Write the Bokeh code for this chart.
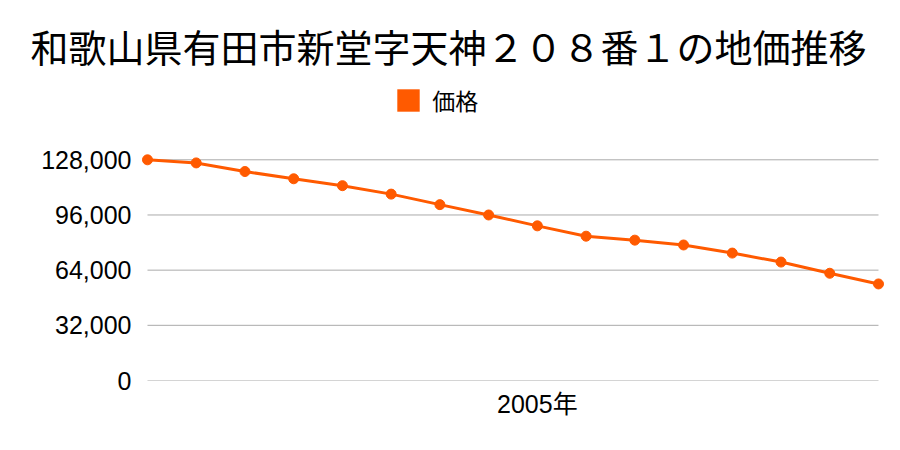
from bokeh.plotting import figure
from bokeh.models import (Range1d, FixedTicker, NumeralTickFormatter, CustomJSTickFormatter,
                          Legend, LegendItem, Title)
from bokeh.embed import file_html
from bokeh.resources import INLINE

title_text = "和歌山県有田市新堂字天神２０８番１の地価推移"
series_name = "価格"
years = list(range(1997, 2013))
prices = [128000, 126200, 121200, 117000, 113000, 108100, 102000, 96000,
          89700, 83700, 81400, 78600, 73900, 68700, 62200, 56000]
y_ticks = [0, 32000, 64000, 96000, 128000]
x_ticks = [2005]
x_suffix = "年"

CJK = "Noto Sans CJK JP"
NUM = "'Liberation Sans', 'Noto Sans CJK JP', sans-serif"
ORANGE = "#ff5a00"

p = figure(width=900, height=450, output_backend="svg", toolbar_location=None,
           min_border_left=137, min_border_right=13, min_border_top=80, min_border_bottom=70,
           x_range=Range1d(years[0] - 0.205, years[-1] + 0.185),
           y_range=Range1d(0, 174000))
p.title.visible = False
p.outline_line_color = None
p.xgrid.visible = False
p.ygrid.visible = False

# gridlines
p.segment(x0=[years[0]] * len(y_ticks), x1=[years[-1]] * len(y_ticks), y0=y_ticks, y1=y_ticks,
          line_color="#aaaaaa", line_width=1)

p.line(years, prices, line_color=ORANGE, line_width=3)
p.scatter(years, prices, size=10, fill_color=ORANGE, line_color=ORANGE)

# legend swatch renderer (no visible data, only the legend swatch)
nan = float("nan")
sw = p.quad(left=[nan], right=[nan], top=[nan], bottom=[nan], fill_color=ORANGE, line_color=None)
legend = Legend(items=[LegendItem(label=series_name, renderers=[sw])],
                location=(257.2, 262.8), orientation="horizontal",
                glyph_width=28, glyph_height=28, label_height=28, label_standoff=10,
                padding=0, margin=0, border_line_color=None, background_fill_alpha=0,
                label_text_font=CJK, label_text_font_size="23px", label_text_color="#000000")
p.add_layout(legend, "center")

# axes
p.yaxis.ticker = FixedTicker(ticks=y_ticks)
p.yaxis.formatter = NumeralTickFormatter(format="0,0")
p.xaxis.ticker = FixedTicker(ticks=x_ticks)
p.xaxis.formatter = CustomJSTickFormatter(args=dict(s=x_suffix), code="return tick + s")
for ax in (p.xaxis[0], p.yaxis[0]):
    ax.axis_line_color = None
    ax.major_tick_line_color = None
    ax.minor_tick_line_color = None
    ax.major_tick_out = 0
    ax.major_tick_in = 0
    ax.major_label_text_font = NUM
    ax.major_label_text_font_size = "25px"
    ax.major_label_text_color = "#000000"
p.yaxis.major_label_standoff = 6
p.xaxis.major_label_standoff = 9

title = Title(text=title_text, align="left", offset=-107, text_font=CJK,
              text_font_size="38px", text_font_style="normal", text_color="#000000",
              standoff=15)
p.add_layout(title, "above")

open("out.html", "w").write(file_html(p, INLINE))
